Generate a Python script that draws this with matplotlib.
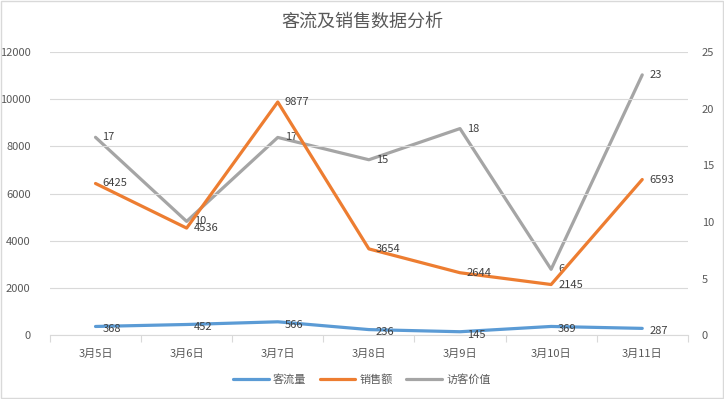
import numpy as np
import matplotlib
matplotlib.use("Agg")
import matplotlib.pyplot as plt

plt.rcParams['font.family'] = ['Noto Sans CJK SC', 'DejaVu Sans']

dates = ['3月5日', '3月6日', '3月7日', '3月8日', '3月9日', '3月10日', '3月11日']
traffic = [368, 452, 566, 236, 145, 369, 287]
sales = [6425, 4536, 9877, 3654, 2644, 2145, 6593]
visitor_value = [17.46, 10.04, 17.45, 15.48, 18.23, 5.81, 22.97]

blue = '#5B9BD5'
orange = '#ED7D31'
gray = '#A5A5A5'
txt = '#595959'
grid = '#D9D9D9'

fig = plt.figure(figsize=(7.24, 3.99), dpi=100)
ax = fig.add_axes([0.069, 0.160, 0.881, 0.710])
ax2 = ax.twinx()

x = np.arange(len(dates))

l1, = ax.plot(x, traffic, color=blue, lw=2.3, solid_capstyle='round', label='客流量')
l2, = ax.plot(x, sales, color=orange, lw=2.3, solid_capstyle='round', label='销售额')
l3, = ax2.plot(x, visitor_value, color=gray, lw=2.3, solid_capstyle='round', label='访客价值')
ax.set_zorder(ax2.get_zorder() + 1)
ax.patch.set_visible(False)

for xi, v in zip(x, traffic):
    ax.annotate(str(v), (xi, v), xytext=(5, -2), textcoords='offset points',
                ha='left', va='center', fontsize=8, color='#404040')
for xi, v in zip(x, sales):
    ax.annotate(str(v), (xi, v), xytext=(5, 0), textcoords='offset points',
                ha='left', va='center', fontsize=8, color='#404040')
for xi, v in zip(x, visitor_value):
    ax2.annotate('%.0f' % v, (xi, v), xytext=(5, 0), textcoords='offset points',
                 ha='left', va='center', fontsize=8, color='#404040')

ax.set_xlim(-0.5, len(dates) - 0.5)
ax.set_ylim(0, 12000)
ax.set_yticks(np.arange(0, 12001, 2000))
ax2.set_ylim(0, 25)
ax2.set_yticks(np.arange(0, 26, 5))

ax.set_xticks(x)
ax.set_xticklabels(dates)
ax.set_xticks(np.arange(-0.5, len(dates), 1), minor=True)
ax.tick_params(axis='x', which='major', length=0, pad=10, labelsize=8, labelcolor=txt)
ax.tick_params(axis='x', which='minor', length=5, color=grid, width=0.8)
ax.tick_params(axis='y', length=0, labelsize=8, labelcolor=txt, pad=14)
ax2.tick_params(axis='y', length=0, labelsize=8, labelcolor=txt, pad=10)

ax.yaxis.grid(True, color=grid, lw=0.8)
ax.set_axisbelow(True)
for a in (ax, ax2):
    for s in ['top', 'left', 'right', 'bottom']:
        a.spines[s].set_visible(False)
ax.spines['bottom'].set_visible(True)
ax.spines['bottom'].set_color(grid)
ax.spines['bottom'].set_linewidth(0.8)

fig.text(0.5, 0.945, '客流及销售数据分析', ha='center', va='center', fontsize=13, color=txt)

fig.legend(handles=[l1, l2, l3], loc='center', bbox_to_anchor=(0.5, 0.048), ncol=3,
           frameon=False, fontsize=8, handlelength=3.2, columnspacing=1.2,
           handletextpad=0.4, labelcolor=txt)

fig.patches.append(plt.Rectangle((0.001, 0.002), 0.997, 0.995, transform=fig.transFigure,
                                 fill=False, edgecolor=grid, lw=1))

fig.savefig('out.png', dpi=100)
